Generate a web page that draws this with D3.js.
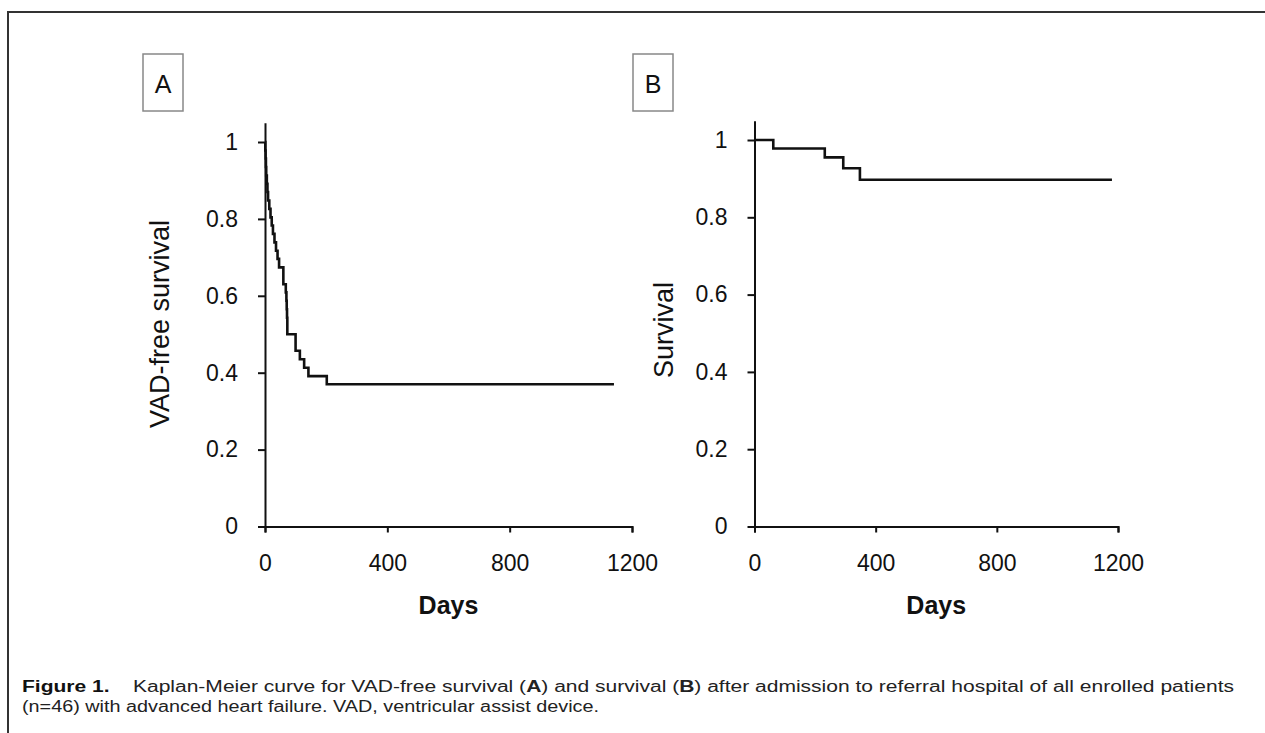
<!DOCTYPE html>
<html>
<head>
<meta charset="utf-8">
<script src="https://cdn.jsdelivr.net/npm/d3@7"></script>
<style>
  body { margin: 0; background: #fff; }
  svg { display: block; font-family: "Liberation Sans", Arial, sans-serif; }
  .axis path, .axis line { stroke: #111; stroke-width: 2px; }
  .axis text { font-size: 23px; fill: #111; font-family: "Liberation Sans", Arial, sans-serif; }
</style>
</head>
<body>
<div id="chart"></div>
<script>
// panel A: VAD-free survival (Kaplan-Meier steps)
const daysA = [0, 1, 2, 3, 4, 6, 8, 10, 14, 18, 22, 26, 31, 36, 41, 46, 60, 68, 70, 71, 72, 73, 100, 114, 128, 142, 202, 1141];
const survA = [1, 0.978, 0.957, 0.935, 0.913, 0.891, 0.870, 0.848, 0.826, 0.804, 0.783, 0.761, 0.739, 0.717, 0.696, 0.674, 0.630, 0.609, 0.587, 0.565, 0.543, 0.500, 0.457, 0.435, 0.413, 0.391, 0.370, 0.370];

// panel B: overall survival
const daysB = [0, 62, 232, 293, 348, 1180];
const survB = [1, 0.978, 0.955, 0.927, 0.897, 0.897];

const xTicks = [0, 400, 800, 1200];
const yTicks = [0, 0.2, 0.4, 0.6, 0.8, 1];

const captionLine1 = ["Figure 1.", "Kaplan-Meier curve for VAD-free survival (", "A", ") and survival (", "B", ") after admission to referral hospital of all enrolled patients"];
const captionLine2 = "(n=46) with advanced heart failure. VAD, ventricular assist device.";

const W = 1265, H = 733;

const svg = d3.select("#chart").append("svg")
    .attr("width", W)
    .attr("height", H);

// figure frame (top + left edge only are visible)
svg.append("path")
    .attr("d", `M8,${H} V12 H${W}`)
    .attr("fill", "none")
    .attr("stroke", "#333")
    .attr("stroke-width", 2);

const panels = [
    { key: "A", days: daysA, surv: survA, x0: 265, x1: 632, y0: 526.5, y1: 142, title: "VAD-free survival", titleX: 169, titleY: 324, box: [143, 54] },
    { key: "B", days: daysB, surv: survB, x0: 754.5, x1: 1118, y0: 526.5, y1: 140, title: "Survival", titleX: 673, titleY: 330, box: [633, 54] }
];

panels.forEach(p => {
    const x = d3.scaleLinear().domain([0, 1200]).range([p.x0, p.x1]);
    const y = d3.scaleLinear().domain([0, 1]).range([p.y0, p.y1]);
    // axis line runs a little past 1
    const yAx = d3.scaleLinear().domain([0, 1.05]).range([p.y0, y(1.05)]);

    svg.append("g")
        .attr("class", "x axis")
        .attr("transform", `translate(0,${p.y0})`)
        .call(d3.axisBottom(x).tickValues(xTicks).tickSize(6).tickPadding(22).tickFormat(d3.format("d")));

    svg.append("g")
        .attr("class", "y axis")
        .attr("transform", `translate(${p.x0},0)`)
        .call(d3.axisLeft(yAx).tickValues(yTicks).tickSize(7).tickSizeOuter(0).tickPadding(20)
            .tickFormat(d => d === 0 ? "0" : d === 1 ? "1" : d3.format(".1f")(d)));

    const line = d3.line()
        .x((d, i) => x(p.days[i]))
        .y(d => y(d))
        .curve(d3.curveStepAfter);

    svg.append("path")
        .datum(p.surv)
        .attr("d", line)
        .attr("fill", "none")
        .attr("stroke", "#111")
        .attr("stroke-width", 2.6);

    svg.append("text")
        .attr("x", (p.x0 + p.x1) / 2)
        .attr("y", 614)
        .attr("text-anchor", "middle")
        .attr("font-size", "25px")
        .attr("font-weight", "bold")
        .attr("fill", "#111")
        .text("Days");

    svg.append("text")
        .attr("transform", `translate(${p.titleX},${p.titleY}) rotate(-90)`)
        .attr("text-anchor", "middle")
        .attr("font-size", "27px")
        .attr("fill", "#111")
        .text(p.title);

    // panel letter box
    svg.append("rect")
        .attr("x", p.box[0])
        .attr("y", p.box[1])
        .attr("width", 40)
        .attr("height", 57)
        .attr("fill", "none")
        .attr("stroke", "#888")
        .attr("stroke-width", 1.5);

    svg.append("text")
        .attr("x", p.box[0] + 20)
        .attr("y", p.box[1] + 39)
        .attr("text-anchor", "middle")
        .attr("font-size", "25px")
        .attr("fill", "#111")
        .text(p.key);
});

// caption
const cap1 = svg.append("text")
    .attr("x", 22)
    .attr("y", 692)
    .attr("font-size", "16px")
    .attr("fill", "#222")
    .attr("textLength", 1212)
    .attr("lengthAdjust", "spacingAndGlyphs");

captionLine1.forEach((s, i) => {
    const t = cap1.append("tspan")
        .text(i === 0 ? s + "\u00a0\u00a0\u00a0 " : s);
    if (i === 0 || s === "A" || s === "B") t.attr("font-weight", "bold");
    if (i === 0) t.attr("fill", "#111");
});

svg.append("text")
    .attr("x", 22)
    .attr("y", 712)
    .attr("font-size", "16px")
    .attr("fill", "#222")
    .attr("textLength", 577)
    .attr("lengthAdjust", "spacingAndGlyphs")
    .text(captionLine2);
</script>
</body>
</html>
